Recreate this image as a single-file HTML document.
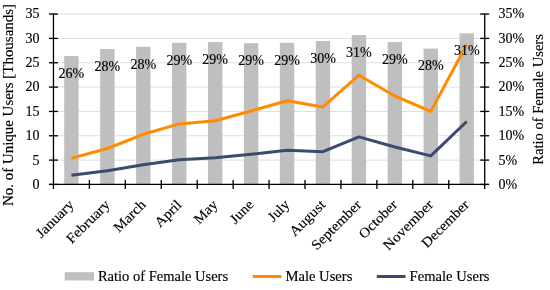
<!DOCTYPE html><html><head><meta charset="utf-8"><style>html,body{margin:0;padding:0;background:#fff;width:550px;height:290px;overflow:hidden}svg{display:block;will-change:transform}text{font-family:"Liberation Serif",serif;fill:#000000;stroke:#000000;stroke-width:0.15px}</style></head><body>
<svg width="550" height="290" viewBox="0 0 550 290">
<rect width="550" height="290" fill="#fff"/>
<line x1="53.45" y1="160.11" x2="484.70" y2="160.11" stroke="#DEDEDE" stroke-width="1"/>
<line x1="53.45" y1="135.77" x2="484.70" y2="135.77" stroke="#DEDEDE" stroke-width="1"/>
<line x1="53.45" y1="111.43" x2="484.70" y2="111.43" stroke="#DEDEDE" stroke-width="1"/>
<line x1="53.45" y1="87.09" x2="484.70" y2="87.09" stroke="#DEDEDE" stroke-width="1"/>
<line x1="53.45" y1="62.75" x2="484.70" y2="62.75" stroke="#DEDEDE" stroke-width="1"/>
<line x1="53.45" y1="38.41" x2="484.70" y2="38.41" stroke="#DEDEDE" stroke-width="1"/>
<line x1="53.45" y1="14.07" x2="484.70" y2="14.07" stroke="#DEDEDE" stroke-width="1"/>
<rect x="64.22" y="56.05" width="14.40" height="128.40" fill="#BFBFBF"/>
<rect x="100.16" y="49.00" width="14.40" height="135.45" fill="#BFBFBF"/>
<rect x="136.09" y="46.80" width="14.40" height="137.65" fill="#BFBFBF"/>
<rect x="172.03" y="42.85" width="14.40" height="141.60" fill="#BFBFBF"/>
<rect x="207.97" y="42.05" width="14.40" height="142.40" fill="#BFBFBF"/>
<rect x="243.91" y="43.15" width="14.40" height="141.30" fill="#BFBFBF"/>
<rect x="279.84" y="42.85" width="14.40" height="141.60" fill="#BFBFBF"/>
<rect x="315.78" y="41.05" width="14.40" height="143.40" fill="#BFBFBF"/>
<rect x="351.72" y="35.04" width="14.40" height="149.41" fill="#BFBFBF"/>
<rect x="387.66" y="42.05" width="14.40" height="142.40" fill="#BFBFBF"/>
<rect x="423.59" y="48.60" width="14.40" height="135.85" fill="#BFBFBF"/>
<rect x="459.53" y="33.36" width="14.40" height="151.09" fill="#BFBFBF"/>
<line x1="53.45" y1="13.47" x2="53.45" y2="188.95" stroke="#000000" stroke-width="1.33"/>
<line x1="484.7" y1="13.47" x2="484.7" y2="188.95" stroke="#000000" stroke-width="1.33"/>
<line x1="48.95" y1="184.45" x2="488.7" y2="184.45" stroke="#000000" stroke-width="1.33"/>
<line x1="48.95" y1="184.45" x2="57.95" y2="184.45" stroke="#000000" stroke-width="1.33"/>
<line x1="480.2" y1="184.45" x2="489.2" y2="184.45" stroke="#000000" stroke-width="1.33"/>
<line x1="48.95" y1="160.11" x2="57.95" y2="160.11" stroke="#000000" stroke-width="1.33"/>
<line x1="480.2" y1="160.11" x2="489.2" y2="160.11" stroke="#000000" stroke-width="1.33"/>
<line x1="48.95" y1="135.77" x2="57.95" y2="135.77" stroke="#000000" stroke-width="1.33"/>
<line x1="480.2" y1="135.77" x2="489.2" y2="135.77" stroke="#000000" stroke-width="1.33"/>
<line x1="48.95" y1="111.43" x2="57.95" y2="111.43" stroke="#000000" stroke-width="1.33"/>
<line x1="480.2" y1="111.43" x2="489.2" y2="111.43" stroke="#000000" stroke-width="1.33"/>
<line x1="48.95" y1="87.09" x2="57.95" y2="87.09" stroke="#000000" stroke-width="1.33"/>
<line x1="480.2" y1="87.09" x2="489.2" y2="87.09" stroke="#000000" stroke-width="1.33"/>
<line x1="48.95" y1="62.75" x2="57.95" y2="62.75" stroke="#000000" stroke-width="1.33"/>
<line x1="480.2" y1="62.75" x2="489.2" y2="62.75" stroke="#000000" stroke-width="1.33"/>
<line x1="48.95" y1="38.41" x2="57.95" y2="38.41" stroke="#000000" stroke-width="1.33"/>
<line x1="480.2" y1="38.41" x2="489.2" y2="38.41" stroke="#000000" stroke-width="1.33"/>
<line x1="48.95" y1="14.07" x2="57.95" y2="14.07" stroke="#000000" stroke-width="1.33"/>
<line x1="480.2" y1="14.07" x2="489.2" y2="14.07" stroke="#000000" stroke-width="1.33"/>
<line x1="89.39" y1="179.95" x2="89.39" y2="188.95" stroke="#000000" stroke-width="1.33"/>
<line x1="125.33" y1="179.95" x2="125.33" y2="188.95" stroke="#000000" stroke-width="1.33"/>
<line x1="161.26" y1="179.95" x2="161.26" y2="188.95" stroke="#000000" stroke-width="1.33"/>
<line x1="197.20" y1="179.95" x2="197.20" y2="188.95" stroke="#000000" stroke-width="1.33"/>
<line x1="233.14" y1="179.95" x2="233.14" y2="188.95" stroke="#000000" stroke-width="1.33"/>
<line x1="269.07" y1="179.95" x2="269.07" y2="188.95" stroke="#000000" stroke-width="1.33"/>
<line x1="305.01" y1="179.95" x2="305.01" y2="188.95" stroke="#000000" stroke-width="1.33"/>
<line x1="340.95" y1="179.95" x2="340.95" y2="188.95" stroke="#000000" stroke-width="1.33"/>
<line x1="376.89" y1="179.95" x2="376.89" y2="188.95" stroke="#000000" stroke-width="1.33"/>
<line x1="412.82" y1="179.95" x2="412.82" y2="188.95" stroke="#000000" stroke-width="1.33"/>
<line x1="448.76" y1="179.95" x2="448.76" y2="188.95" stroke="#000000" stroke-width="1.33"/>
<polyline points="71.42,158.30 107.36,148.50 143.29,134.30 179.23,123.90 215.17,120.70 251.11,111.00 287.04,100.70 322.98,106.90 358.92,75.20 394.86,96.00 430.79,111.40 466.73,44.50" fill="none" stroke="#FF8C00" stroke-width="3" stroke-linejoin="round" stroke-linecap="butt"/>
<polyline points="71.42,175.20 107.36,170.70 143.29,164.70 179.23,159.70 215.17,157.70 251.11,154.30 287.04,150.20 322.98,151.70 358.92,136.90 394.86,147.00 430.79,155.90 466.73,121.50" fill="none" stroke="#3A4B6D" stroke-width="3" stroke-linejoin="round" stroke-linecap="butt"/>
<text x="71.42" y="77.85" font-size="14" text-anchor="middle">26%</text>
<text x="107.36" y="70.80" font-size="14" text-anchor="middle">28%</text>
<text x="143.29" y="68.60" font-size="14" text-anchor="middle">28%</text>
<text x="179.23" y="64.65" font-size="14" text-anchor="middle">29%</text>
<text x="215.17" y="63.85" font-size="14" text-anchor="middle">29%</text>
<text x="251.11" y="64.95" font-size="14" text-anchor="middle">29%</text>
<text x="287.04" y="64.65" font-size="14" text-anchor="middle">29%</text>
<text x="322.98" y="62.85" font-size="14" text-anchor="middle">30%</text>
<text x="358.92" y="56.84" font-size="14" text-anchor="middle">31%</text>
<text x="394.86" y="63.85" font-size="14" text-anchor="middle">29%</text>
<text x="430.79" y="70.40" font-size="14" text-anchor="middle">28%</text>
<text x="466.73" y="55.16" font-size="14" text-anchor="middle">31%</text>
<text x="39.5" y="188.85" font-size="14" text-anchor="end">0</text>
<text x="498.5" y="188.85" font-size="14">0%</text>
<text x="39.5" y="164.51" font-size="14" text-anchor="end">5</text>
<text x="498.5" y="164.51" font-size="14">5%</text>
<text x="39.5" y="140.17" font-size="14" text-anchor="end">10</text>
<text x="498.5" y="140.17" font-size="14">10%</text>
<text x="39.5" y="115.83" font-size="14" text-anchor="end">15</text>
<text x="498.5" y="115.83" font-size="14">15%</text>
<text x="39.5" y="91.49" font-size="14" text-anchor="end">20</text>
<text x="498.5" y="91.49" font-size="14">20%</text>
<text x="39.5" y="67.15" font-size="14" text-anchor="end">25</text>
<text x="498.5" y="67.15" font-size="14">25%</text>
<text x="39.5" y="42.81" font-size="14" text-anchor="end">30</text>
<text x="498.5" y="42.81" font-size="14">30%</text>
<text x="39.5" y="18.47" font-size="14" text-anchor="end">35</text>
<text x="498.5" y="18.47" font-size="14">35%</text>
<text transform="translate(74.72,205.45) rotate(-45)" font-size="14" text-anchor="end" textLength="47.18" lengthAdjust="spacingAndGlyphs">January</text>
<text transform="translate(110.66,205.45) rotate(-45)" font-size="14" text-anchor="end" textLength="54.90" lengthAdjust="spacingAndGlyphs">February</text>
<text transform="translate(146.59,205.45) rotate(-45)" font-size="14" text-anchor="end" textLength="38.99" lengthAdjust="spacingAndGlyphs">March</text>
<text transform="translate(182.53,205.45) rotate(-45)" font-size="14" text-anchor="end" textLength="32.04" lengthAdjust="spacingAndGlyphs">April</text>
<text transform="translate(218.47,205.45) rotate(-45)" font-size="14" text-anchor="end" textLength="27.23" lengthAdjust="spacingAndGlyphs">May</text>
<text transform="translate(254.41,205.45) rotate(-45)" font-size="14" text-anchor="end" textLength="27.16" lengthAdjust="spacingAndGlyphs">June</text>
<text transform="translate(290.34,205.45) rotate(-45)" font-size="14" text-anchor="end" textLength="24.25" lengthAdjust="spacingAndGlyphs">July</text>
<text transform="translate(326.28,205.45) rotate(-45)" font-size="14" text-anchor="end" textLength="44.74" lengthAdjust="spacingAndGlyphs">August</text>
<text transform="translate(362.22,205.45) rotate(-45)" font-size="14" text-anchor="end" textLength="64.19" lengthAdjust="spacingAndGlyphs">September</text>
<text transform="translate(398.16,205.45) rotate(-45)" font-size="14" text-anchor="end" textLength="47.99" lengthAdjust="spacingAndGlyphs">October</text>
<text transform="translate(434.09,205.45) rotate(-45)" font-size="14" text-anchor="end" textLength="64.34" lengthAdjust="spacingAndGlyphs">November</text>
<text transform="translate(470.03,205.45) rotate(-45)" font-size="14" text-anchor="end" textLength="61.01" lengthAdjust="spacingAndGlyphs">December</text>
<text transform="translate(12.8,105.0) rotate(-90)" font-size="14" text-anchor="middle" textLength="202" lengthAdjust="spacingAndGlyphs">No. of Unique Users [Thousands]</text>
<text transform="translate(543,99.4) rotate(-90)" font-size="14" text-anchor="middle" textLength="130.5" lengthAdjust="spacingAndGlyphs">Ratio of Female Users</text>
<rect x="64.7" y="272.2" width="29.3" height="8.3" fill="#BFBFBF"/>
<text x="97.9" y="280.9" font-size="14" textLength="130.2" lengthAdjust="spacingAndGlyphs">Ratio of Female Users</text>
<line x1="252.6" y1="276.5" x2="281.4" y2="276.5" stroke="#FF8C00" stroke-width="3"/>
<text x="285.4" y="280.9" font-size="14" textLength="67" lengthAdjust="spacingAndGlyphs">Male Users</text>
<line x1="376.8" y1="276.5" x2="405.5" y2="276.5" stroke="#3A4B6D" stroke-width="3"/>
<text x="409.6" y="280.9" font-size="14" textLength="79.9" lengthAdjust="spacingAndGlyphs">Female Users</text>
</svg></body></html>
